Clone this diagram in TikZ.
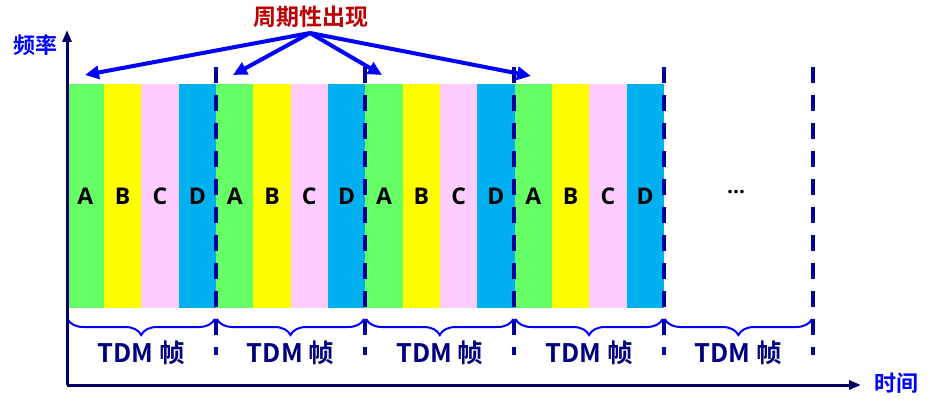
\documentclass[tikz,border=0pt]{standalone}
\usepackage{fontspec}
\setmainfont{Open Sans}
\newfontfamily\cjk{Noto Sans CJK SC}[BoldFont={Noto Sans CJK SC Bold}]
\usetikzlibrary{positioning,calc,arrows.meta,decorations.pathreplacing}

\definecolor{slotA}{HTML}{66FF66}
\definecolor{slotB}{HTML}{FFFF00}
\definecolor{slotC}{HTML}{FFCCFF}
\definecolor{slotD}{HTML}{00B0F0}
\definecolor{axisblue}{HTML}{000066}
\definecolor{dashblue}{HTML}{000099}
\definecolor{labelblue}{HTML}{000080}
\definecolor{markblue}{HTML}{0000FF}
\definecolor{titlered}{HTML}{C00000}

\tikzset{
  slot/.style={draw=none, inner sep=0pt, minimum width=37.4pt,
    minimum height=224pt, anchor=north west,
    font=\bfseries\fontsize{23}{26}\selectfont},
  framesep/.style={dashblue, line width=4pt, dash pattern=on 16pt off 12pt},
  framebrace/.style={markblue, line width=2pt,
    decorate, decoration={brace, mirror, amplitude=16pt}},
  framelabel/.style={labelblue, font=\bfseries\cjk\fontsize{25.5}{28}\selectfont},
  axislabel/.style={markblue, font=\bfseries\cjk\fontsize{22}{26}\selectfont},
  axis/.style={axisblue, line width=3pt, -{Triangle[length=12pt,width=9pt]}},
  pointer/.style={markblue, line width=4pt, -{Triangle[length=14pt,width=13pt]}}
}

\begin{document}
\begin{tikzpicture}[x=1pt,y=-1pt]
   \useasboundingbox (0,0) rectangle (933,403);

   % time slots A B C D, four frames
   \foreach \f in {0,...,3}{
      \foreach \c [count=\i] in {A,B,C,D}{
         \node[slot, fill=slot\c] (s\f\c) at ({66.5+149.3*\f+37.3*(\i-1)},84) {\c};
      }
   }

   % frame boundaries
   \foreach \k in {0,...,5}{
      \coordinate (b\k)  at ({66.5+149.3*\k},319);
      \coordinate (dt\k) at ({66.5+149.3*\k},67);
      \coordinate (db\k) at ({66.5+149.3*\k},355);
   }
   \foreach \k in {1,...,5}{
      \draw[framesep] (dt\k) -- (db\k);
   }

   % braces and frame labels
   \foreach \k [evaluate=\k as \n using int(\k+1)] in {0,...,4}{
      \draw[framebrace] ($(b\k)+(1,0)$) -- ($(b\n)-(1,0)$);
      \node[framelabel] (f\k) at ($(b\k)!0.5!(b\n)+(0,34)$) {TDM 帧};
   }

   % empty frame
   \node[font=\bfseries\fontsize{21}{24}\selectfont] (dots) at (736,192) {…};

   % axes
   \coordinate (origin) at (67,385);
   \coordinate (ytip)   at (67,30);
   \coordinate (xtip)   at (861,385);
   \draw[axis] (origin) -- (ytip);
   \draw[axis] (origin) -- (xtip);
   \node[axislabel] (ylab) at (35,45)  {频率};
   \node[axislabel] (xlab) at (896,383) {时间};

   % periodic pointers
   \node[titlered, font=\bfseries\cjk\fontsize{23}{26}\selectfont] (title) at (311,17) {周期性出现};
   \coordinate (src) at (310,33);
   \coordinate (t0) at (85,75);
   \coordinate (t1) at (233,75);
   \coordinate (t2) at (382,75);
   \coordinate (t3) at (531,76);
   \foreach \k in {0,...,3}{
      \draw[pointer] (src) -- (t\k);
   }
\end{tikzpicture}
\end{document}
